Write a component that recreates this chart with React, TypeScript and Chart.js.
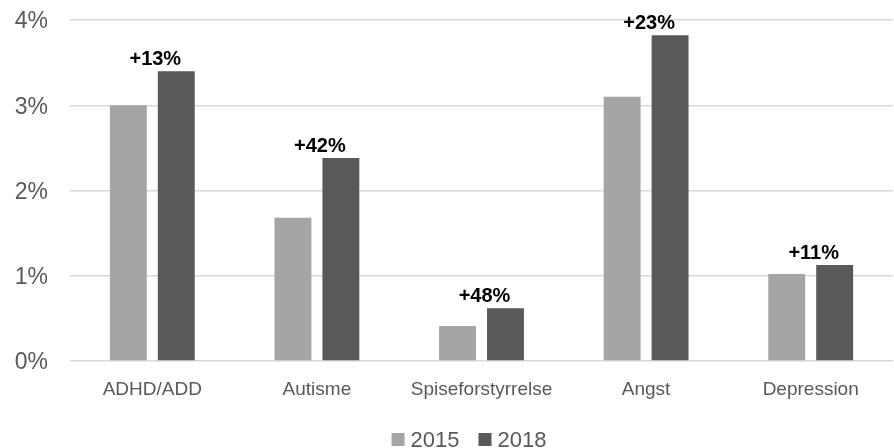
import React, { useEffect, useRef } from "react";
import { Chart, registerables } from "chart.js";

Chart.register(...registerables);

const categories = ["ADHD/ADD", "Autisme", "Spiseforstyrrelse", "Angst", "Depression"];
const values2015 = [3.0, 1.68, 0.41, 3.1, 1.02];
const values2018 = [3.4, 2.38, 0.62, 3.82, 1.125];
const changeLabels = ["+13%", "+42%", "+48%", "+23%", "+11%"];
const yTicks = [0, 1, 2, 3, 4];

const FONT = "'Liberation Sans', Arial, sans-serif";
const TEXT = "#595959";

const changeLabelPlugin = {
  id: "changeLabels",
  afterDatasetsDraw(chart: any) {
    const ctx = chart.ctx;
    const xs = chart.scales.x;
    const meta = chart.getDatasetMeta(1);
    ctx.save();
    ctx.font = `bold 20px ${FONT}`;
    ctx.fillStyle = "#000000";
    ctx.textAlign = "center";
    ctx.textBaseline = "bottom";
    changeLabels.forEach((lab, i) => {
      const bar = meta.data[i];
      const x = xs.getPixelForValue(i) + 3;
      ctx.fillText(lab, x, bar.y - 2);
    });
    ctx.restore();
  },
};

const customLegendPlugin = {
  id: "customLegend",
  afterDraw(chart: any) {
    const ctx = chart.ctx;
    const ds = chart.data.datasets;
    const box = 13;
    const gap = 6;
    const spacing = 19;
    const centerX = 469;
    const baseline = 447;
    ctx.save();
    ctx.font = `22px ${FONT}`;
    const widths = ds.map((d: any) => ctx.measureText(d.label).width);
    let total = 0;
    widths.forEach((w: number, i: number) => {
      total += box + gap + w + (i > 0 ? spacing : 0);
    });
    let x = centerX - total / 2;
    ds.forEach((d: any, i: number) => {
      if (i > 0) x += spacing;
      ctx.fillStyle = d.backgroundColor;
      ctx.fillRect(x, baseline - 14, box, box);
      x += box + gap;
      ctx.fillStyle = TEXT;
      ctx.textAlign = "left";
      ctx.textBaseline = "alphabetic";
      ctx.fillText(d.label, x, baseline);
      x += widths[i];
    });
    ctx.restore();
  },
};

export default function App() {
  const ref = useRef<HTMLCanvasElement | null>(null);
  useEffect(() => {
    if (!ref.current) return;
    const chart = new Chart(ref.current, {
      type: "bar",
      data: {
        labels: categories,
        datasets: [
          {
            label: "2015",
            data: values2015,
            backgroundColor: "#a5a5a5",
            categoryPercentage: 0.5825,
            barPercentage: 0.77,
          },
          {
            label: "2018",
            data: values2018,
            backgroundColor: "#595959",
            categoryPercentage: 0.5825,
            barPercentage: 0.77,
          },
        ],
      },
      options: {
        animation: false,
        responsive: false,
        maintainAspectRatio: false,
        layout: { padding: { top: 20, right: 1, left: 0, bottom: 0 } },
        scales: {
          x: {
            grid: { display: false },
            border: { display: false },
            afterFit: (scale: any) => {
              scale.height = 87;
              scale.paddingLeft = 0;
              scale.paddingRight = 0;
            },
            ticks: {
              color: TEXT,
              font: { family: FONT, size: 19 },
              padding: 9,
              maxRotation: 0,
            },
          },
          y: {
            min: 0,
            max: 4,
            afterBuildTicks: (scale: any) => {
              scale.ticks = yTicks.map((v) => ({ value: v }));
            },
            afterFit: (scale: any) => {
              scale.width = 70;
              scale.paddingTop = 0;
              scale.paddingBottom = 0;
            },
            grid: { color: "#d9d9d9", lineWidth: 1.5, drawTicks: false },
            border: { display: false },
            ticks: {
              color: TEXT,
              font: { family: FONT, size: 23 },
              padding: 22,
              labelOffset: 2,
              callback: (v: any) => `${v}%`,
            },
          },
        },
        plugins: {
          legend: { display: false },
          tooltip: { enabled: false },
        },
      },
      plugins: [changeLabelPlugin, customLegendPlugin],
    });
    return () => chart.destroy();
  }, []);
  return (
    <div style={{ position: "absolute", left: 0, top: 0, width: 894, height: 448 }}>
      <canvas ref={ref} width={894} height={448} style={{ width: 894, height: 448 }} />
    </div>
  );
}
